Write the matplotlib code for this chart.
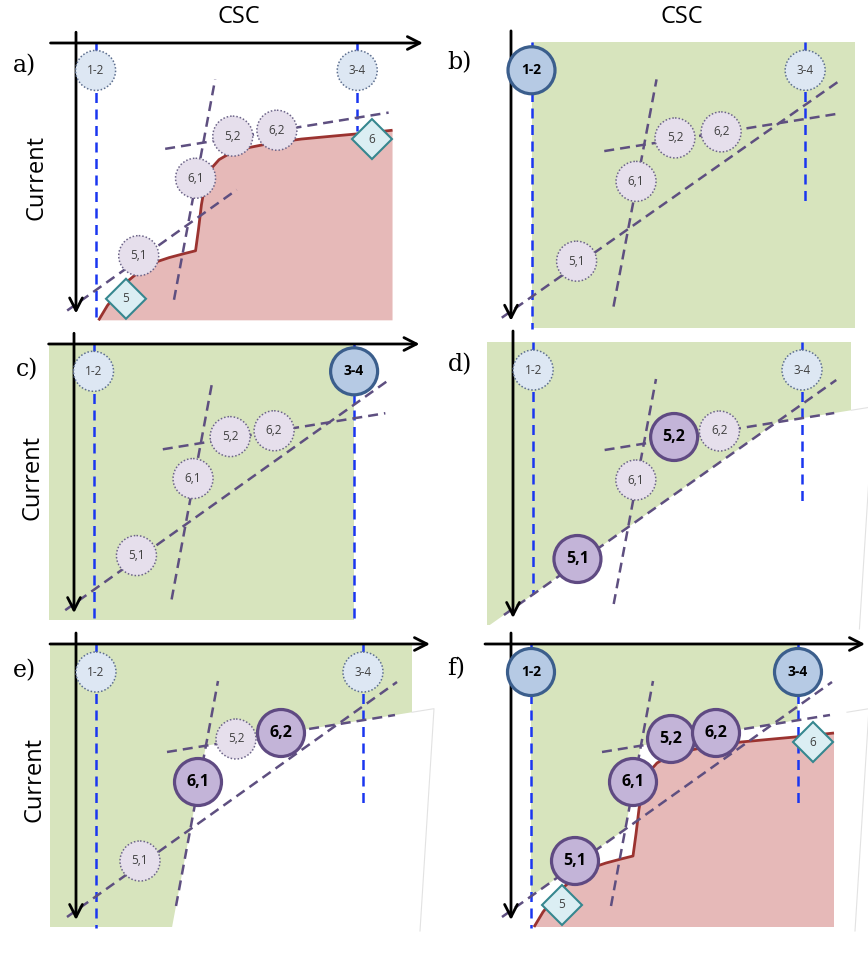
import matplotlib
matplotlib.use("Agg")
import matplotlib.pyplot as plt
from matplotlib.patches import Circle, Polygon

# ---- diagram values (local coords: origin where the two axes cross, px) ----
panels = ['a', 'b', 'c', 'd', 'e', 'f']
panel_origin = {'a': (76, 43), 'b': (511, 42), 'c': (74, 344),
                'd': (513, 342), 'e': (76, 644), 'f': (511, 644)}
panel_scale = {'a': (0.98, 0.98), 'b': (1.025, 1.01), 'c': (0.976, 0.975),
               'd': (1.007, 1.0), 'e': (1.0, 1.0), 'f': (1.0, 1.0)}

relays = ['1-2', '3-4', '5,1', '6,1', '5,2', '6,2']
relay_x = [20, 287, 64, 122, 160, 205]
relay_y = [28, 28, 217, 138, 95, 89]
busbar_relays = ['1-2', '3-4']

breakers = ['5', '6']
breaker_x = [51, 302]
breaker_y = [261, 98]

# fault current curve
fault_x = [23, 32, 42, 54, 66, 80, 95, 110, 122, 125, 128, 132, 138, 146,
           158, 175, 200, 230, 262, 295, 323]
fault_y = [283, 268, 255, 242, 232, 224, 219, 215, 212, 190, 165, 142, 128, 119,
           112, 107, 102, 98, 95, 92, 89]

# relay characteristic lines (dashed)
low_line = [(-9, 273), (321, 38)]
steep_line = [(100, 262), (142, 37)]
flat_line = [(91, 108), (319, 71)]

active = {'a': [], 'b': ['1-2'], 'c': ['3-4'], 'd': ['5,1', '5,2'],
          'e': ['6,1', '6,2'], 'f': relays}
with_fault = ['a', 'f']
green_span = {'b': (20, 336), 'c': (-26, 287), 'd': (-26, 336),
              'e': (-26, 336), 'f': (20, 287)}
white_cut = {'d': ['d'], 'e': ['e'], 'f': ['d', 'e']}
end_12 = {'d': 252}
end_34 = {'a': 90, 'c': 283}
low_stop = {'a': 164}

BOTTOM = 283
RIGHT = 336

GREEN = '#d7e4bd'
RED_FILL = '#e6b9b8'
RED_LINE = '#9b3330'
PURPLE = '#5e4f80'
BLUE = '#1a36f0'


def side(p, q):
    # > 0 below a left-to-right line, or right of a bottom-to-top line
    return lambda pt: (q[0] - p[0]) * (pt[1] - p[1]) - (q[1] - p[1]) * (pt[0] - p[0])


def clip(poly, f):
    out = []
    for i in range(len(poly)):
        a, b = poly[i], poly[(i + 1) % len(poly)]
        fa, fb = f(a), f(b)
        if fa >= 0:
            out.append(a)
        if (fa >= 0) != (fb >= 0):
            t = fa / (fa - fb)
            out.append((a[0] + t * (b[0] - a[0]), a[1] + t * (b[1] - a[1])))
    return out


def y_on(line, x):
    (xa, ya), (xb, yb) = line
    return ya + (x - xa) * (yb - ya) / (xb - xa)


box = [(-40, 0), (RIGHT + 22, 0), (RIGHT + 8, BOTTOM + 4), (-40, BOTTOM + 4)]
below_low = side(*low_line)
below_flat = side(*flat_line)
right_steep = side(*steep_line)
white_shapes = {
    'd': clip(clip(box, below_low), below_flat),
    'e': clip(clip(box, right_steep), below_flat),
}

fig = plt.figure(figsize=(8.68, 9.63), dpi=100)
ax = fig.add_axes([0, 0, 1, 1])
ax.set_xlim(0, 868)
ax.set_ylim(963, 0)
ax.axis('off')

sans = ['Open Sans', 'DejaVu Sans']

for p in panels:
    ox, oy = panel_origin[p]
    sx, sy = panel_scale[p]

    def px(x, y):
        return ox + sx * x, oy + sy * y

    # regions
    if p in green_span:
        x0, x1 = green_span[p]
        ax.add_patch(Polygon([px(x0, 0), px(x1, 0), px(x1, BOTTOM), px(x0, BOTTOM)],
                             closed=True, facecolor=GREEN, edgecolor='none', zorder=1))
    if p in white_cut:
        for w in white_cut[p]:
            ax.add_patch(Polygon([px(*pt) for pt in white_shapes[w]], closed=True,
                                 facecolor='white', edgecolor='none', zorder=2))
        # faint outline on the right of the cut-out
        s = px(RIGHT + 22, y_on(flat_line, RIGHT + 22))
        e = px(RIGHT + 8, BOTTOM + 4)
        ax.plot([px(RIGHT, y_on(flat_line, RIGHT))[0], s[0], e[0]],
                [px(RIGHT, y_on(flat_line, RIGHT))[1], s[1], e[1]],
                color='#e2e2e2', lw=0.8, zorder=2)
    if p in with_fault:
        pts = [px(x, y) for x, y in zip(fault_x, fault_y)]
        ax.add_patch(Polygon(pts + [px(fault_x[-1], BOTTOM), px(fault_x[0], BOTTOM)],
                             closed=True, facecolor=RED_FILL, edgecolor='none', zorder=3))
        ax.plot([q[0] for q in pts], [q[1] for q in pts], color=RED_LINE, lw=2.0,
                zorder=5, solid_capstyle='butt')

    # busbar relay reach lines
    x12, x34 = relay_x[0], relay_x[1]
    a1, b1 = px(x12, 0), px(x12, end_12.get(p, 284))
    a2, b2 = px(x34, 0), px(x34, end_34.get(p, 163))
    for s, e in [(a1, b1), (a2, b2)]:
        ax.plot([s[0], e[0]], [s[1], e[1]], color=BLUE, lw=1.8,
                linestyle=(0, (4, 2.6)), zorder=4)

    # relay characteristics
    for line in (low_line, steep_line, flat_line):
        (xa, ya), (xb, yb) = line
        if line is low_line and p in low_stop:
            xb, yb = low_stop[p], y_on(line, low_stop[p])
        s, e = px(xa, ya), px(xb, yb)
        ax.plot([s[0], e[0]], [s[1], e[1]], color=PURPLE, lw=1.8,
                linestyle=(0, (4, 2.4)), zorder=5)

    # axes arrows
    arrow = dict(arrowstyle='->,head_length=0.45,head_width=0.23', lw=2.0,
                 color='black', shrinkA=0, shrinkB=0, mutation_scale=20)
    ax.annotate('', xy=px(354, 0), xytext=px(-26, 0), arrowprops=arrow, zorder=6)
    ax.annotate('', xy=px(0, 276), xytext=px(0, -11), arrowprops=arrow, zorder=6)

    # relays
    for name, x, y in zip(relays, relay_x, relay_y):
        cx, cy = px(x, y)
        bus = name in busbar_relays
        if name in active[p]:
            fc, ec = ('#b6cae4', '#3b5e8c') if bus else ('#c3b4d8', '#5f4a82')
            ax.add_patch(Circle((cx, cy), 23.5, facecolor=fc, edgecolor=ec, lw=2.3, zorder=7))
            ax.text(cx, cy, name, ha='center', va='center', fontsize=10 if bus else 11.5,
                    fontweight='bold', color='black', family=sans, zorder=8)
        else:
            fc = '#dde7f3' if bus else '#e6dfec'
            ec = '#5d6e8e' if bus else '#6c6488'
            ax.add_patch(Circle((cx, cy), 20, facecolor=fc, edgecolor=ec, lw=1.1,
                                linestyle=(0, (1, 1.3)), zorder=7))
            ax.text(cx, cy, name, ha='center', va='center', fontsize=8.5,
                    color='#404040', family=sans, zorder=8)

    # breakers
    if p in with_fault:
        for name, x, y in zip(breakers, breaker_x, breaker_y):
            cx, cy = px(x, y)
            h = 20
            ax.add_patch(Polygon([(cx - h, cy), (cx, cy - h), (cx + h, cy), (cx, cy + h)],
                                 closed=True, facecolor='#dbeef3', edgecolor='#36878f',
                                 lw=1.5, zorder=7))
            ax.text(cx, cy, name, ha='center', va='center', fontsize=8.5,
                    color='#404040', family=sans, zorder=8)

# panel letters
letter_pos = {'a': (24, 66), 'b': (459, 63), 'c': (27, 370),
              'd': (460, 365), 'e': (24, 671), 'f': (456, 669)}
for p in panels:
    ax.text(*letter_pos[p], p + ')', ha='center', va='center', fontsize=17,
            family='DejaVu Serif', color='black', zorder=9)

for x in (239, 682):
    ax.text(x, 17, 'CSC', ha='center', va='center', fontsize=17, family=sans)
for x, y in [(36, 177), (32, 477), (34, 780)]:
    ax.text(x, y, 'Current', ha='center', va='center', rotation=90, fontsize=17, family=sans)

fig.savefig('out.png', dpi=100)
